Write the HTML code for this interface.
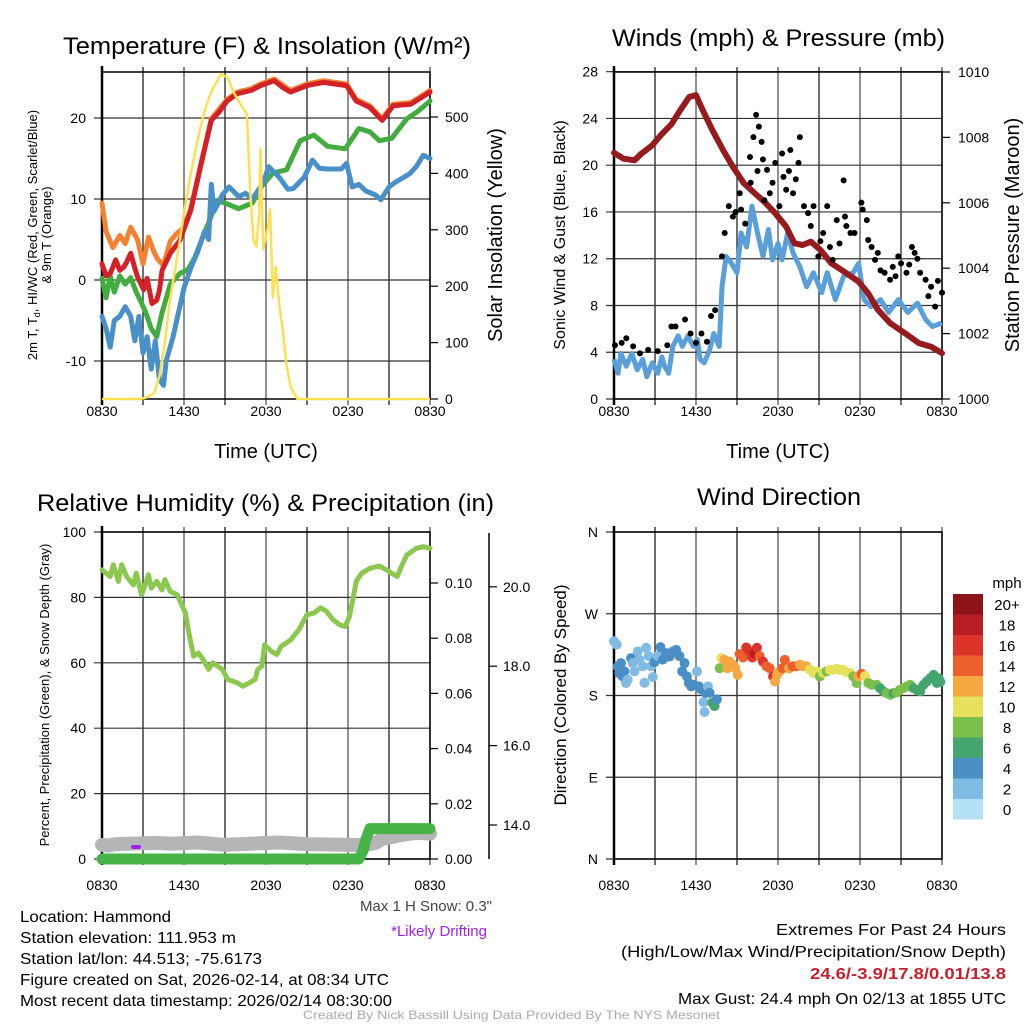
<!DOCTYPE html>
<html><head><meta charset="utf-8"><style>
html,body{margin:0;padding:0;background:#fff;}
svg{display:block;font-family:"Liberation Sans",sans-serif;}
</style></head><body>
<svg id="fig" width="1024" height="1024" viewBox="0 0 1024 1024" xmlns="http://www.w3.org/2000/svg">
<g id="static" fill="#000">
<text x="63" y="54" font-size="24" textLength="408" lengthAdjust="spacingAndGlyphs">Temperature (F) &amp; Insolation (W/m²)</text>
<text x="612" y="46" font-size="24" textLength="333" lengthAdjust="spacingAndGlyphs">Winds (mph) &amp; Pressure (mb)</text>
<text x="37" y="511" font-size="24" textLength="457" lengthAdjust="spacingAndGlyphs">Relative Humidity (%) &amp; Precipitation (in)</text>
<text x="697" y="505" font-size="24" textLength="164" lengthAdjust="spacingAndGlyphs">Wind Direction</text>
<text x="266" y="458" font-size="20" text-anchor="middle">Time (UTC)</text>
<text x="778" y="458" font-size="20" text-anchor="middle">Time (UTC)</text>
<text transform="translate(37,235) rotate(-90)" font-size="13" text-anchor="middle">2m T, T<tspan font-size="9" dy="3">d</tspan><tspan dy="-3">, HI/WC (Red, Green, Scarlet/Blue)</tspan></text>
<text transform="translate(51,235) rotate(-90)" font-size="13" text-anchor="middle">&amp; 9m T (Orange)</text>
<text transform="translate(502,235) rotate(-90)" font-size="20" text-anchor="middle">Solar Insolation (Yellow)</text>
<text transform="translate(565,235) rotate(-90)" font-size="16" text-anchor="middle">Sonic Wind &amp; Gust (Blue, Black)</text>
<text transform="translate(1019,235) rotate(-90)" font-size="20" text-anchor="middle">Station Pressure (Maroon)</text>
<text transform="translate(49,695) rotate(-90)" font-size="13" text-anchor="middle">Percent, Precipitation (Green), &amp; Snow Depth (Gray)</text>
<text transform="translate(566,695) rotate(-90)" font-size="17" text-anchor="middle">Direction (Colored By Speed)</text>
<text x="492" y="911" font-size="15" fill="#444" text-anchor="end">Max 1 H Snow: 0.3"</text>
<text x="487" y="936" font-size="15" fill="#a020f0" text-anchor="end">*Likely Drifting</text>
<g font-size="16">
<text x="20" y="922" textLength="151" lengthAdjust="spacingAndGlyphs">Location: Hammond</text>
<text x="20" y="943" textLength="216" lengthAdjust="spacingAndGlyphs">Station elevation: 111.953 m</text>
<text x="20" y="964" textLength="242" lengthAdjust="spacingAndGlyphs">Station lat/lon: 44.513; -75.6173</text>
<text x="20" y="985" textLength="369" lengthAdjust="spacingAndGlyphs">Figure created on Sat, 2026-02-14, at 08:34 UTC</text>
<text x="20" y="1006" textLength="372" lengthAdjust="spacingAndGlyphs">Most recent data timestamp: 2026/02/14 08:30:00</text>
</g>
<g font-size="16">
<text x="776" y="935" textLength="230" lengthAdjust="spacingAndGlyphs">Extremes For Past 24 Hours</text>
<text x="621" y="957" textLength="385" lengthAdjust="spacingAndGlyphs">(High/Low/Max Wind/Precipitation/Snow Depth)</text>
<text x="810" y="979" textLength="196" lengthAdjust="spacingAndGlyphs" font-weight="bold" fill="#c8202a">24.6/-3.9/17.8/0.01/13.8</text>
<text x="678" y="1004" textLength="328" lengthAdjust="spacingAndGlyphs">Max Gust: 24.4 mph On 02/13 at 1855 UTC</text>
</g>
<text x="303" y="1019" font-size="12" fill="#aaa" textLength="417" lengthAdjust="spacingAndGlyphs">Created By Nick Bassill Using Data Provided By The NYS Mesonet</text>
<text x="1007" y="588" font-size="15" text-anchor="middle">mph</text>
</g>
<g id="dyn"></g>
</svg>
<script>
// ---------- data ----------
const timeTicks = ["0830","1430","2030","0230","0830"];
const tempTicks = [-10,0,10,20];
const solarTicks = [0,100,200,300,400,500];
const windTicks = [0,4,8,12,16,20,24,28];
const presTicks = [1000,1002,1004,1006,1008,1010];
const rhTicks = [0,20,40,60,80,100];
const precipTicks = [0,0.02,0.04,0.06,0.08,0.10];
const snowTicks = [14,16,18,20];
const dirTicks = ["N","E","S","W","N"];
const speedBins = ["0","2","4","6","8","10","12","14","16","18","20+"];
const binColors = ["#b4e1f7","#7fbbe3","#4a8ec6","#45a56f","#7cc04c","#e6e15a","#f5a742","#ed5f2b","#dc3429","#b81c24","#8c1419"];

const orangeT = [[0,9.5],[0.3,6],[0.8,4],[1.3,5.5],[1.7,4.5],[2.1,6.5],[2.6,5],[3.0,2],[3.4,5.3],[3.8,3.5],[4.1,2.5],[4.5,1.8],[5.0,4.8],[5.5,5.8],[6.0,6.5],[6.5,8.8],[7.2,14.1],[8.0,19.9],[9.15,22.3],[9.9,23.2],[10.9,23.6],[11.6,24.2],[12.6,24.8],[13.8,23.4],[15,24.2],[16.2,24.6],[17.9,24.2],[18.6,22.3],[19.6,21.5],[20.5,19.9],[21.3,21.7],[22.6,21.9],[24,23.4]];
const redT = [[0,2.0],[0.3,0.5],[0.6,0.8],[0.8,1.6],[1.0,2.5],[1.3,1.2],[1.6,1.6],[1.8,2.2],[2.1,3.3],[2.4,1.5],[2.6,0.4],[3.05,-1.2],[3.3,0.2],[3.66,-2.9],[4.0,-2.5],[4.2,-1.3],[4.4,1.2],[5.0,3.3],[5.7,4.9],[6.5,8.6],[7.2,13.9],[8.0,19.7],[8.6,20.8],[9.15,22.1],[9.9,23],[10.9,23.4],[11.6,24],[12.6,24.6],[13.2,23.8],[13.8,23.2],[15,24],[16.2,24.4],[17.9,24],[18.6,22.1],[19.6,21.3],[20.5,19.7],[21.3,21.5],[22.6,21.7],[24,23.2]];
const greenT = [[0,0.2],[0.3,-2.2],[0.6,0.5],[0.9,-1.5],[1.3,0.5],[1.7,-0.5],[2.1,0.3],[2.5,-1.5],[2.8,-2.5],[3.2,-4],[3.6,-6],[4.0,-7],[4.4,-4],[5.0,-0.5],[5.7,0.8],[6.3,1.3],[6.8,2.8],[7.3,5],[7.9,7.5],[8.4,9.8],[9.0,9.5],[10.0,8.8],[11.0,9.5],[11.7,11.6],[12.5,13.2],[13.5,13.6],[14.5,17.2],[15.5,17.9],[16.5,16.5],[17.8,16.2],[18.8,18.7],[19.6,18.3],[20.3,17.2],[21.2,17.5],[22.3,19.9],[23.1,20.8],[24,22.1]];
const blueT = [[0,-4.5],[0.3,-6],[0.6,-8.3],[0.9,-5],[1.3,-4.5],[1.7,-3.3],[2.1,-4.5],[2.4,-7.5],[2.7,-4.5],[3.0,-9],[3.3,-7],[3.6,-11],[3.9,-7.5],[4.2,-12.3],[4.5,-13],[4.7,-10],[5.2,-7],[5.6,-4],[6.0,-1],[6.5,1.5],[7.0,3.5],[7.5,6],[7.8,5],[8.0,11.8],[8.2,8.5],[8.8,10.5],[9.3,11.5],[10,10.3],[10.5,10.7],[11,10],[11.8,12],[12.2,14],[13,12.6],[13.6,11.2],[14,11.3],[14.8,12.7],[15.4,14.8],[15.9,13.8],[16.5,13.7],[17.5,13.7],[17.9,14.4],[18.3,11.5],[18.8,11.8],[19.3,11],[20,10.5],[20.4,9.9],[21,11.5],[21.5,12.1],[22.5,13.1],[23,14],[23.5,15.4],[24,15]];
const solar = [[0,0],[2.8,0],[3.3,3],[3.8,10],[4.2,40],[4.6,100],[5.0,180],[5.5,250],[6.0,330],[6.5,400],[7.0,460],[7.5,510],[8.0,545],[8.7,576],[9.2,570],[9.6,545],[10.2,520],[10.6,505],[10.85,365],[11.1,280],[11.3,270],[11.5,330],[11.6,443],[11.8,265],[12.1,300],[12.3,336],[12.5,180],[12.7,235],[13.0,160],[13.2,129],[13.5,60],[13.8,22],[14.3,0],[24,0]];

const pressure = [[0,1007.53],[0.7,1007.35],[1.5,1007.3],[2.0,1007.5],[2.8,1007.76],[3.5,1008.1],[4.2,1008.4],[4.8,1008.8],[5.5,1009.24],[6.0,1009.29],[6.5,1008.83],[7.2,1008.22],[8.0,1007.6],[8.7,1007.1],[9.5,1006.6],[10.3,1006.29],[11.0,1006.03],[11.8,1005.68],[12.6,1005.27],[13.2,1004.76],[13.8,1004.71],[14.4,1004.81],[15.1,1004.56],[15.9,1004.15],[17.0,1003.85],[17.9,1003.59],[18.6,1003.23],[19.3,1002.73],[20.2,1002.32],[21.3,1002.01],[22.3,1001.71],[23.2,1001.6],[24,1001.4]];
const sonicWind = [[0,3.4],[0.3,2.2],[0.5,3.9],[0.9,2.8],[1.3,3.9],[1.7,2.5],[2.1,3.4],[2.4,1.9],[2.8,3.1],[3.2,2.2],[3.5,3.6],[3.7,2.8],[4.0,2.2],[4.3,4.5],[4.7,5.4],[5.0,4.5],[5.4,5.4],[5.8,4.5],[6.1,5.1],[6.3,3.4],[6.6,3.1],[7.0,4.2],[7.3,5.6],[7.7,4.5],[7.9,9.6],[8.2,12.2],[8.6,11.6],[9.0,10.8],[9.3,14.2],[9.7,13],[10.1,16.5],[10.5,14.2],[10.9,12.2],[11.3,14.5],[11.6,11.9],[12.0,13.3],[12.3,11.9],[12.7,14.2],[13.1,12.5],[13.6,11.3],[14.1,9.6],[14.6,10.8],[15.2,9.1],[15.6,10.8],[16.2,8.5],[16.8,10.5],[17.5,10.8],[17.9,11.6],[18.3,8.5],[18.8,7.9],[19.5,8.5],[20.1,7.4],[20.8,8.5],[21.5,7.4],[22.2,8.2],[22.8,6.8],[23.3,6.2],[24,6.5]];
const gusts = [[0.07,4.6],[0.56,4.8],[0.9,5.2],[1.4,4.5],[1.9,3.9],[2.5,4.2],[3.2,4.1],[3.9,4.6],[4.2,6.2],[4.5,6.2],[5.2,6.8],[5.6,5.6],[6.0,4.8],[6.4,5.6],[6.8,4.9],[7.1,7.1],[7.4,7.6],[7.9,12.2],[8.1,14.2],[8.4,16.5],[8.7,15.6],[9.2,17.6],[9.3,16.2],[9.95,20.7],[10.2,22.4],[10.4,24.3],[10.6,23.3],[10.8,22],[10.9,20.5],[11.2,19.6],[11.4,17.6],[11.8,20.2],[12.3,21],[12.4,19],[12.6,17.9],[12.9,21.3],[13.1,17.6],[13.5,20.2],[13.6,22.4],[13.9,16.5],[14.2,15.9],[14.6,16.5],[14.95,12.2],[15.3,14.2],[15.6,16.5],[15.8,13],[16.0,11.9],[16.3,15.3],[16.8,18.7],[16.9,15.6],[17.3,14.2],[17.6,14.2],[18.1,16.8],[18.2,16.2],[18.5,15.3],[18.6,13.6],[18.85,13],[19.1,11.9],[19.5,11],[19.8,10.8],[20.2,10.2],[20.4,11.3],[20.8,12.2],[21.0,11.6],[21.4,10.8],[21.8,13],[22.0,12.5],[22.4,10.8],[22.8,10.2],[23.0,8.8],[23.2,9.6],[23.5,7.9],[23.7,10.1],[24,9.1],[10.0,18.5],[10.5,19.5],[11.0,17.0],[11.6,18.5],[12.1,16.5],[12.8,19.5],[13.3,18.8],[14.4,14.8],[15.1,13.5],[17.0,14.8],[19.3,12.5],[20.6,10.5],[21.6,11.5],[22.2,12.0],[9.6,15.0],[8.9,16.0],[16.5,13.3]];

const rh = [[0,88.4],[0.6,86.4],[0.83,90],[1.2,84.9],[1.44,90],[1.8,86.4],[2.3,83.8],[2.5,87.4],[2.9,80.8],[3.4,86.9],[3.6,82.8],[4.0,84.9],[4.4,82.3],[4.6,85.4],[5.0,81.8],[5.5,80.8],[6.1,75.2],[6.4,68.1],[6.7,62],[7.05,63],[7.4,61],[7.8,58],[8.1,60],[8.8,58],[9.2,54.9],[9.9,53.9],[10.3,52.8],[10.8,53.9],[11.2,54.9],[11.4,58],[11.7,59],[11.9,65.5],[12.4,63.5],[12.8,62.5],[13.1,65],[13.8,67],[14.4,70.1],[15.0,74.7],[15.5,75.2],[16.0,76.8],[16.4,75.8],[16.9,73.2],[17.4,71.6],[17.8,71.1],[18.1,74.2],[18.4,80.3],[18.6,84.9],[19.0,87.4],[19.6,88.9],[20.3,89.6],[20.8,88.4],[21.2,87.4],[21.6,86.4],[21.9,89.4],[22.3,93],[23.0,95],[23.5,95.5],[24,95]];
const snowDepth = [[0,13.5],[0.4,13.48],[1,13.52],[2,13.53],[4,13.55],[5,13.53],[7,13.56],[9,13.5],[11.5,13.54],[13,13.56],[15,13.52],[18,13.5],[19.3,13.5],[20,13.55],[20.5,13.65],[21.5,13.72],[22.5,13.78],[23.2,13.8],[24,13.78]];
const precip = [[0,0],[18.8,0],[19.1,0.003],[19.3,0.007],[19.6,0.011],[24,0.011]];

const dirPoints = [[0,239.7,3],[0.2,236,3],[0.27,211.9,5],[0.39,204.6,5],[0.51,215.6,5],[0.64,201,5],[0.76,206.5,5],[0.88,193.7,3],[1.0,197.4,3],[1.25,221.2,5],[1.37,215.6,3],[1.5,206.5,3],[1.74,228.5,3],[1.86,219.5,3],[2.1,212.2,3],[2.23,194,3],[2.35,232.6,3],[2.54,223.4,3],[2.71,212.2,3],[2.84,200.3,3],[2.96,216.7,5],[3.2,223.4,3],[3.4,233.2,5],[3.57,219.5,5],[3.81,226.6,5],[4.06,222.9,5],[4.3,228.5,5],[4.55,230.3,5],[4.79,223.4,5],[4.99,206.5,5],[5.16,215.6,5],[5.33,201,5],[5.48,193.7,5],[5.65,190,5],[5.82,191.8,5],[6.07,206.5,3],[6.21,190,5],[6.38,186.6,5],[6.55,172.7,3],[6.7,182.9,5],[6.63,161.9,3],[6.87,190,3],[6.99,182.9,5],[7.19,172,6.5],[7.36,168.4,6.5],[7.53,175.7,5],[7.73,210.1,8],[7.85,221.1,10],[8.09,219.2,12],[8.29,210.1,12],[8.46,217.4,12],[8.71,213.8,12],[8.88,210.1,12],[9.05,202.7,12],[9.19,225.6,14],[9.44,221.9,14],[9.68,232.9,16],[9.88,229.2,16],[10.12,221.9,16],[10.29,226.3,18],[10.46,232.6,16],[10.66,223.4,14],[10.9,217.4,16],[11.15,212.2,14],[11.39,210.1,14],[11.64,201,16],[11.78,195.5,12],[11.93,202.7,12],[12.13,206.5,12],[12.32,210.1,14],[12.5,219.2,14],[12.81,209.8,12],[13.06,212.2,14],[13.35,212.2,14],[13.59,214,12],[13.84,212.2,12],[14.08,212.2,12],[14.33,208.6,10],[14.57,204.9,10],[14.82,206.5,10],[15.06,201,8],[15.31,204.9,10],[15.55,206.5,8],[15.8,208.2,10],[16.04,208.2,10],[16.29,209.4,10],[16.53,208.2,10],[16.78,208.2,10],[17.02,205.7,10],[17.26,204.9,10],[17.51,201,8],[17.75,193.7,8],[17.87,201,12],[18.12,203.8,14],[18.36,201.4,10],[18.61,193.7,8],[18.85,191.8,8],[19.22,191.8,8],[19.46,188.1,7],[19.71,184.5,7],[19.95,182.6,8],[20.2,180.8,8],[20.44,182.6,7],[20.69,183.4,8],[20.93,186.3,8],[21.18,188.1,8],[21.42,190,8],[21.67,191.8,8],[21.91,188.1,7],[22.16,186.3,7],[22.4,184.5,7],[22.65,191.8,7],[22.89,195.5,7],[23.14,199.1,7],[23.39,202.7,7],[23.63,193.7,7],[23.76,199.1,7],[23.88,195,7]];

// ---------- scales ----------
const xA = h => 102 + h * 13.667;
const xB = h => 614 + h * 13.667;
const yT = v => 280 - v * 8.1;
const yS = v => 399 - v * 0.564;
const yW = v => 399 - v * 11.69;
const yP = v => 399 - (v - 1000) * 32.7;
const yR = v => 859 - v * 3.27;
const yPr = v => 859 - v * 2760;
const ySn = v => 825 - (v - 14) * 39.7;
const yD = v => 859 - v * 0.9083;

const NS = "http://www.w3.org/2000/svg";
const root = document.getElementById("dyn");
function el(tag, attrs, parent) {
  const e = document.createElementNS(NS, tag);
  for (const k in attrs) e.setAttribute(k, attrs[k]);
  (parent || root).appendChild(e);
  return e;
}
function txt(x, y, s, size, anchor) {
  const t = el("text", {x: x, y: y, "font-size": size, "text-anchor": anchor || "middle"});
  t.textContent = s;
  return t;
}
function pathOf(arr, xf, yf) {
  return arr.map((p, i) => (i ? "L" : "M") + xf(p[0]).toFixed(1) + "," + yf(p[1]).toFixed(1)).join("");
}
function frame(x0, y0, x1, y1, hLines, name, labOff) {
  for (let i = 0; i <= 8; i++) {
    const x = x0 + i * (x1 - x0) / 8;
    const g = el("line", {x1: x, y1: y0 - 5, x2: x, y2: y1 + 6, stroke: i % 2 ? "#222" : "#555", "stroke-width": 1.3});
    
    
  }
  hLines.forEach(y => {
    const g = el("line", {x1: x0 - 8, y1: y, x2: x1, y2: y, stroke: "#333", "stroke-width": 1.2});
    
    
  });
  const b = el("rect", {x: x0, y: y0, width: x1 - x0, height: y1 - y0, fill: "none", stroke: "#000", "stroke-width": 1.5});
  
  
  el("line", {x1: x0, y1: y0 - 6, x2: x0, y2: y1 + 6, stroke: "#000", "stroke-width": 2.5});
  timeTicks.forEach((s, i) => {
    const t = txt(x0 + i * (x1 - x0) / 4, y1 + labOff, s, 14);
    
    
  });
}

// ---------- panel 1 ----------
frame(102, 72, 430, 399, tempTicks.map(yT), "temp", 17);
tempTicks.forEach(v => {
  const t = txt(86, yT(v) + 5, String(v), 14, "end");
  
  
});
solarTicks.forEach(v => {
  el("line", {x1: 430, y1: yS(v), x2: 438, y2: yS(v), stroke: "#000", "stroke-width": 1.2});
  const t = txt(445, yS(v) + 5, String(v), 14, "start");
  
  
});
[[orangeT, "#f58231", "orange-9m-temp-line"], [greenT, "#43ac3f", "green-dewpoint-line"], [blueT, "#4a90c8", "blue-windchill-line"], [redT, "#d42027", "red-2m-temp-line"]].forEach(s => {
  const p = el("path", {d: pathOf(s[0], xA, yT), fill: "none", stroke: s[1], "stroke-width": 5, "stroke-linejoin": "round", "stroke-linecap": "round"});
  
  
});
const solarLine = el("path", {d: pathOf(solar, xA, yS), fill: "none", stroke: "#fbe052", "stroke-width": 2.5, "stroke-linejoin": "round"});



// ---------- panel 2 ----------
frame(614, 72, 942, 399, windTicks.map(yW), "wind", 17);
windTicks.forEach(v => {
  const t = txt(598, yW(v) + 5, String(v), 14, "end");
  
  
});
presTicks.forEach(v => {
  el("line", {x1: 942, y1: yP(v), x2: 950, y2: yP(v), stroke: "#000", "stroke-width": 1.2});
  const t = txt(958, yP(v) + 5, String(v), 14, "start");
  
  
});
const windLine = el("path", {d: pathOf(sonicWind, xB, yW), fill: "none", stroke: "#5a9fd8", "stroke-width": 5, "stroke-linejoin": "round"});


const presLine = el("path", {d: pathOf(pressure, xB, yP), fill: "none", stroke: "#951b1e", "stroke-width": 6, "stroke-linejoin": "round", "stroke-linecap": "round"});


gusts.forEach(g => {
  const c = el("circle", {cx: xB(g[0]), cy: yW(g[1]), r: 3, fill: "#000"});
  
  
});

// ---------- panel 3 ----------
frame(102, 532, 430, 859, rhTicks.map(yR), "rh", 31);
rhTicks.forEach(v => {
  const t = txt(86, yR(v) + 5, String(v), 14, "end");
  
  
});
precipTicks.forEach(v => {
  el("line", {x1: 430, y1: yPr(v), x2: 438, y2: yPr(v), stroke: "#000", "stroke-width": 1.2});
  const t = txt(445, yPr(v) + 5, v.toFixed(2), 14, "start");
  
  
});
el("line", {x1: 489, y1: 533, x2: 489, y2: 859, stroke: "#000", "stroke-width": 1.5});
snowTicks.forEach(v => {
  el("line", {x1: 489, y1: ySn(v), x2: 497, y2: ySn(v), stroke: "#000", "stroke-width": 1.2});
  const t = txt(503, ySn(v) + 5, v.toFixed(1), 14, "start");
  
  
});
const snowLine = el("path", {d: pathOf(snowDepth, xA, ySn), fill: "none", stroke: "#b5b5b5", "stroke-width": 14, "stroke-linejoin": "round", "stroke-linecap": "round"});


const precLine = el("path", {d: pathOf(precip, xA, yPr), fill: "none", stroke: "#46b446", "stroke-width": 11, "stroke-linejoin": "round", "stroke-linecap": "round"});


const rhLine = el("path", {d: pathOf(rh, xA, yR), fill: "none", stroke: "#8cc850", "stroke-width": 5, "stroke-linejoin": "round", "stroke-linecap": "round"});


const drift = el("line", {x1: 133, y1: 847, x2: 139, y2: 847, stroke: "#a020f0", "stroke-width": 4, "stroke-linecap": "round"});



// ---------- panel 4 ----------
frame(614, 532, 942, 859, [0, 90, 180, 270, 360].map(yD), "direction", 31);
dirTicks.forEach((s, i) => {
  const t = txt(598, yD(i * 90) + 5, s, 14, "end");
  
  
});
dirPoints.forEach(p => {
  const bin = Math.min(10, Math.floor(p[2] / 2));
  const c = el("circle", {cx: xB(p[0]), cy: yD(p[1]), r: 5, fill: binColors[bin]});
  
  
});
// colorbar
speedBins.forEach((s, i) => {
  const y = 594 + (10 - i) * 20.5;
  const r = el("rect", {x: 953, y: y, width: 30, height: 20.5, fill: binColors[i]});
  
  
  const t = txt(1007, y + 16, s, 15);
  
  
});
</script>
</body></html>
